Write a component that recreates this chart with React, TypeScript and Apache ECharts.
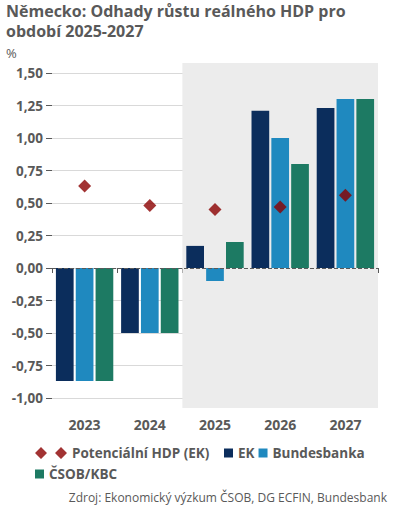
import React, { useEffect, useRef } from "react";
import * as echarts from "echarts";

const categories = ["2023", "2024", "2025", "2026", "2027"];
const potentialGdp = [0.63, 0.48, 0.45, 0.47, 0.56];
const ekValues = [-0.87, -0.5, 0.17, 1.21, 1.23];
const bundesbankValues = [-0.87, -0.5, -0.1, 1.0, 1.3];
const csobValues = [-0.87, -0.5, 0.2, 0.8, 1.3];
const forecastBand = [2, 5]; // category-index span of the shaded forecast period
const seriesNames = ["Potenciální HDP (EK)", "EK", "Bundesbanka", "ČSOB/KBC"];
const titleText = "Německo: Odhady růstu reálného HDP pro\nobdobí 2025-2027";
const unitText = "%";
const sourceText = "Zdroj: Ekonomický výzkum ČSOB, DG ECFIN, Bundesbank";

const FONT = "'Open Sans', 'Noto Sans', sans-serif";
const GRAY = "#595959";

export default function App() {
  const ref = useRef<HTMLDivElement>(null);
  useEffect(() => {
    document.body.style.margin = "0";
    if (!ref.current) return;
    const chart = echarts.init(ref.current, undefined, { renderer: "svg" });
    const legendText = { color: GRAY, fontSize: 13.5, fontWeight: "bold" as const, fontFamily: FONT };
    chart.setOption({
      animation: false,
      textStyle: { fontFamily: FONT },
      title: {
        text: titleText,
        left: 6,
        top: 0,
        padding: [1, 0, 0, 0],
        textStyle: { fontSize: 16, fontWeight: "bold", color: GRAY, lineHeight: 20, fontFamily: FONT },
      },
      grid: [
        { left: 52, right: 15, top: 73, bottom: 114 },
        { left: 52, right: 15, top: 63, bottom: 104 },
      ],
      xAxis: [
        {
          type: "category",
          data: categories,
          gridIndex: 0,
          offset: 12,
          axisLine: { show: false },
          axisTick: { show: true, length: 5, lineStyle: { color: GRAY } },
          axisLabel: { color: GRAY, fontSize: 14, fontWeight: "bold", margin: 7, fontFamily: FONT },
        },
        { type: "value", gridIndex: 1, min: 0, max: 5, show: false },
      ],
      yAxis: [
        {
          type: "value",
          gridIndex: 0,
          min: -1,
          max: 1.5,
          interval: 0.25,
          axisLine: { show: false },
          axisTick: { show: true, length: 6, lineStyle: { color: GRAY } },
          axisLabel: {
            color: GRAY,
            fontSize: 13.5,
            fontWeight: "bold",
            margin: 9,
            fontFamily: FONT,
            formatter: (v: number) => v.toFixed(2).replace(".", ","),
          },
          splitLine: { lineStyle: { color: "#d9d9d9" } },
        },
        { type: "value", gridIndex: 1, min: 0, max: 1, show: false },
      ],
      legend: [
        {
          data: [
            {
              name: seriesNames[0],
              icon: "path://M6,0L12,6L6,12L0,6Z M26,0L32,6L26,12L20,6Z",
            },
          ],
          left: 30,
          top: 441,
          itemWidth: 32,
          itemHeight: 12,
          selectedMode: false,
          textStyle: legendText,
        },
        {
          data: [seriesNames[1], seriesNames[2]],
          icon: "rect",
          left: 219,
          top: 441,
          itemWidth: 9,
          itemHeight: 9,
          itemGap: 4,
          selectedMode: false,
          textStyle: legendText,
        },
        {
          data: [seriesNames[3]],
          icon: "rect",
          left: 30,
          top: 462,
          itemWidth: 9,
          itemHeight: 9,
          selectedMode: false,
          textStyle: legendText,
        },
      ],
      graphic: [
        {
          type: "text",
          left: 6,
          top: 46,
          style: { text: unitText, fill: GRAY, fontSize: 13, fontFamily: FONT },
        },
        {
          type: "text",
          right: 6,
          top: 491,
          style: { text: sourceText, fill: GRAY, fontSize: 12, fontFamily: FONT },
        },
      ],
      series: [
        {
          type: "line",
          xAxisIndex: 1,
          yAxisIndex: 1,
          data: [],
          z: -1,
          silent: true,
          markArea: {
            silent: true,
            itemStyle: { color: "#ececec" },
            data: [[{ xAxis: forecastBand[0], yAxis: 0 }, { xAxis: forecastBand[1], yAxis: 1 }]],
          },
        },
        {
          name: seriesNames[1],
          type: "bar",
          data: ekValues,
          itemStyle: { color: "#0b2d5c" },
          barCategoryGap: "12%",
          barGap: "12%",
          markLine: {
            silent: true,
            symbol: "none",
            label: { show: false },
            lineStyle: { type: "dashed", color: GRAY, width: 1 },
            data: [{ yAxis: 0 }],
          },
        },
        {
          name: seriesNames[2],
          type: "bar",
          data: bundesbankValues,
          itemStyle: { color: "#1f89bf" },
          barCategoryGap: "12%",
          barGap: "12%",
        },
        {
          name: seriesNames[3],
          type: "bar",
          data: csobValues,
          itemStyle: { color: "#1d7a63" },
          barCategoryGap: "12%",
          barGap: "12%",
        },
        {
          name: seriesNames[0],
          type: "scatter",
          data: potentialGdp,
          symbol: "diamond",
          symbolSize: 13,
          itemStyle: { color: "#8b0000" },
          z: 5,
        },
      ],
    });
    return () => chart.dispose();
  }, []);
  return <div ref={ref} style={{ width: 393, height: 512 }} />;
}
